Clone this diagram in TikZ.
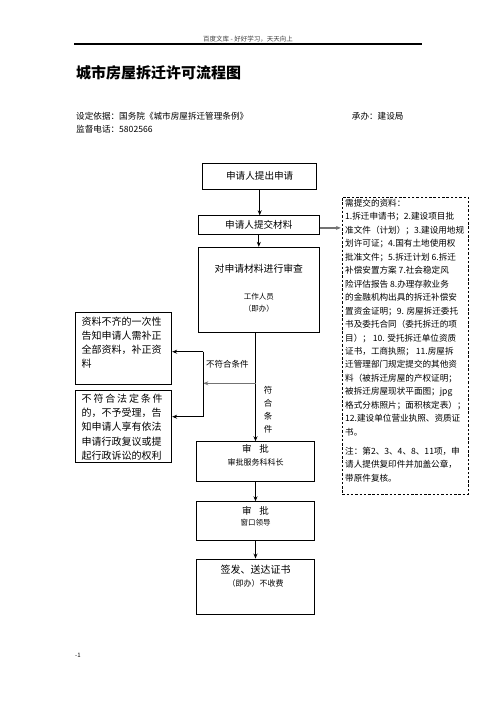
\documentclass[tikz,border=0pt]{standalone}
\usepackage{fontspec}
\setmainfont{Noto Sans CJK SC}
\usetikzlibrary{arrows.meta}
\begin{document}
\begin{tikzpicture}[x=1pt,y=-1pt,
  box/.style={draw, line width=0.9pt, inner sep=0pt},
  txt/.style={inner sep=0pt, align=center},
  arr/.style={-{Stealth[length=5pt,width=4pt]}, line width=0.9pt},
  garr/.style={-{Stealth[length=5pt,width=4pt]}, line width=1.6pt, draw=black!55},
  lbl/.style={inner sep=0pt, font=\fontsize{8.5}{10}\selectfont}
]
\useasboundingbox (0,0) rectangle (496,702);
% header
\node[txt, font=\fontsize{6.5}{8}\selectfont, text=black!75] (hdr) at (248,39.5) {百度文库 - 好好学习，天天向上};
\coordinate (hl) at (74,44);
\coordinate (hr) at (422,44);
\draw[line width=1.1pt] (hl) -- (hr);
\node[inner sep=0pt, anchor=west, font=\fontsize{15}{18}\selectfont\bfseries] (title) at (76,72.3) {城市房屋拆迁许可流程图};
\node[inner sep=0pt, anchor=west, font=\fontsize{8.6}{10}\selectfont] (basis) at (76,116.7) {设定依据：国务院《城市房屋拆迁管理条例》};
\node[inner sep=0pt, anchor=west, font=\fontsize{8.6}{10}\selectfont] (org) at (351.7,116.7) {承办：建设局};
\node[inner sep=0pt, anchor=west, font=\fontsize{8.6}{10}\selectfont] (tel) at (76,129.5) {监督电话：5802566};
\node[inner sep=0pt, anchor=west, font=\fontsize{6}{7}\selectfont] (pg) at (75,655.7) {-1};

% main boxes
\node[box, minimum width=114, minimum height=26] (b1) at (259.7,176.3) {};
\node[box, minimum width=121, minimum height=18.3] (b2) at (258.8,224.9) {};
\node[box, minimum width=121, minimum height=85.4] (b3) at (258.8,290) {};
\node[box, minimum width=117.6, minimum height=40] (b4) at (255.5,461.7) {};
\node[box, minimum width=117.6, minimum height=38.3] (b5) at (255.5,520.9) {};
\node[box, minimum width=117.6, minimum height=55] (b6) at (255.5,586.5) {};
\node[box, minimum width=96.7, minimum height=71.7] (bA) at (123.35,348.15) {};
\node[box, minimum width=96.7, minimum height=72.7] (bB) at (123.35,426.35) {};
\node[draw, dashed, dash pattern=on 2.5pt off 1.8pt, line width=0.9pt, minimum width=126.2, minimum height=297, inner sep=0pt] (dash) at (405.4,345.5) {};

% texts
\node[txt, font=\fontsize{9.6}{12}\selectfont] (t1) at (b1.center) {申请人提出申请};
\node[txt, font=\fontsize{9.6}{12}\selectfont] (t2) at (b2.center) {申请人提交材料};
\node[txt, font=\fontsize{9.8}{12}\selectfont] (t3a) at (258.8,269) {对申请材料进行审查};
\node[txt, font=\fontsize{7.5}{12.3}\selectfont] (t3b) at (258.8,303) {工作人员\\（即办）};
\node[txt, font=\fontsize{9.5}{12}\selectfont] (t4a) at (255.5,449) {审\hspace{0.8em}批};
\node[txt, font=\fontsize{8}{10}\selectfont] (t4b) at (255.5,462) {审批服务科科长};
\node[txt, font=\fontsize{9.5}{12}\selectfont] (t5a) at (255.5,510.7) {审\hspace{0.8em}批};
\node[txt, font=\fontsize{7.5}{10}\selectfont] (t5b) at (255.5,523) {窗口领导};
\node[txt, font=\fontsize{10}{12}\selectfont] (t6a) at (255.5,570) {签发、送达证书};
\node[txt, font=\fontsize{8}{10}\selectfont] (t6b) at (255.5,583) {（即办）不收费};

\node[inner sep=0pt, anchor=north west, align=left, font=\fontsize{10}{14}\selectfont] (tA) at (81.5,317) {资料不齐的一次性\\告知申请人需补正\\全部资料，补正资\\料};
\node[inner sep=0pt, anchor=north west, align=left, font=\fontsize{10}{14.3}\selectfont] (tB) at (81.5,393.5) {\makebox[81pt][s]{不\hfill 符\hfill 合\hfill 法\hfill 定\hfill 条\hfill 件}\\的，不予受理，告\\知申请人享有依法\\申请行政复议或提\\起行政诉讼的权利};

\node[inner sep=0pt, anchor=north west, align=left, font=\fontsize{8.6}{13.45}\selectfont] (tD) at (345,199) {需提交的资料：\\
1.拆迁申请书；2.建设项目批\\
准文件（计划）；3.建设用地规\\
划许可证；4.国有土地使用权\\
批准文件；5.拆迁计划 6.拆迁\\
补偿安置方案 7.社会稳定风\\
险评估报告 8.办理存款业务\\
的金融机构出具的拆迁补偿安\\
置资金证明；9. 房屋拆迁委托\\
书及委托合同（委托拆迁的项\\
目）； 10. 受托拆迁单位资质\\
证书，工商执照； 11.房屋拆\\
迁管理部门规定提交的其他资\\
料（被拆迁房屋的产权证明；\\
被拆迁房屋现状平面图；jpg\\
格式分栋照片；面积核定表）；\\
12.建设单位营业执照、资质证\\
书。\\[5.5pt]
注：第2、3、4、8、11项，申\\
请人提供复印件并加盖公章，\\
带原件复核。};

% connectors
\draw[arr] (b1.south) -- (b1.south |- b2.north);
\draw[arr] (b2.south) -- (b3.north);
\draw[arr] (b3.south -| b4.north) -- (b4.north);
\draw[arr] (b4.south) -- (b5.north);
\draw[arr] (b5.south) -- (b6.north);
\coordinate (g1) at ([yshift=-3pt]b2.east);
\draw[garr] (g1) -- ([xshift=-1pt]g1 -| dash.west);
\coordinate (br) at (255.5,383.3);
\coordinate (jn) at (203.3,383.3);
\coordinate (ja) at (203.3,351.7);
\coordinate (jb) at (203.3,416.7);
\draw[garr] (br) -- (jn);
\draw[line width=0.9pt] (ja) -- (jb);
\draw[arr] (ja) -- (ja -| bA.east);
\draw[arr] (jb) -- (jb -| bB.east);
\node[lbl, anchor=west] (nf) at (206,364) {不符合条件};
\node[lbl, align=center, font=\fontsize{8.5}{13}\selectfont] (yf) at (268,409.5) {符\\合\\条\\件};
\end{tikzpicture}
\end{document}
